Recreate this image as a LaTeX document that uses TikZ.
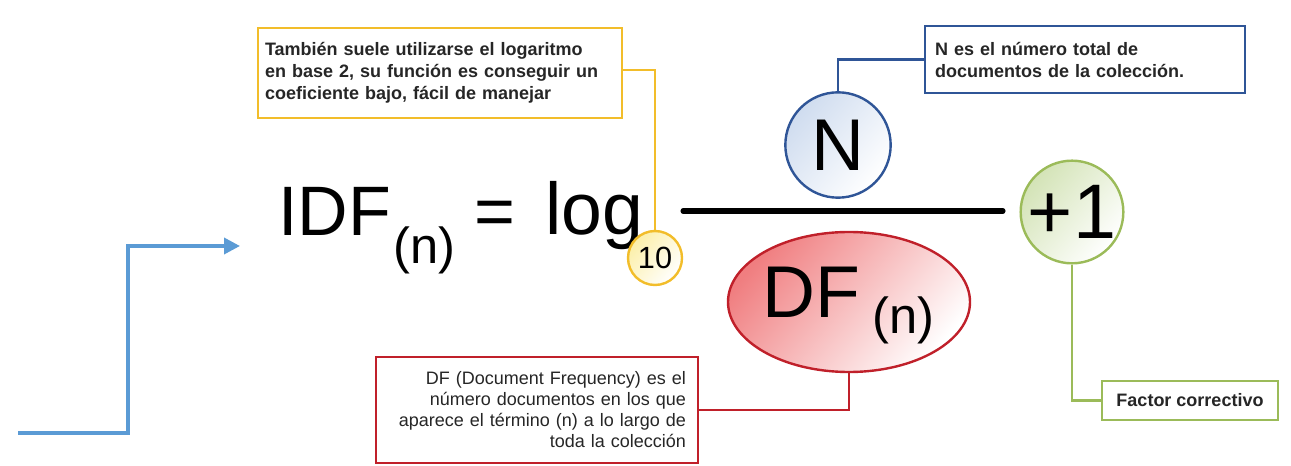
\documentclass[tikz,border=0pt]{standalone}
\usepackage{fontspec}
\setmainfont{Liberation Sans}
\usetikzlibrary{arrows.meta,shapes.geometric}
\definecolor{ybord}{HTML}{F2BD2A}
\definecolor{yfill}{HTML}{FCEFA8}
\definecolor{bbord}{HTML}{2F5597}
\definecolor{bfill}{HTML}{CFDCEF}
\definecolor{gbord}{HTML}{9BBB59}
\definecolor{gfill}{HTML}{D3E3B6}
\definecolor{rbord}{HTML}{C0202A}
\definecolor{rfill}{HTML}{F07E80}
\definecolor{txt}{HTML}{262626}
\definecolor{arrowblue}{HTML}{5B9BD5}
\begin{document}
\begin{tikzpicture}[x=0.75pt,y=-0.75pt,
  every node/.style={inner sep=0pt, text=txt},
  note/.style={draw, line width=2.2pt, fill=white, font=\fontsize{13.5pt}{16.5pt}\selectfont\bfseries},
  link/.style={line width=2pt},
  big/.style={font=\fontsize{52.5pt}{60pt}\selectfont, text=black},
  sub/.style={font=\fontsize{38pt}{42pt}\selectfont, text=black},
  ball/.style={circle, draw, line width=1.8pt},
  grad/.style={top color=#1, bottom color=white, shading angle=50},
]
\useasboundingbox (0,0) rectangle (1291,466);

% formula
\node[big, anchor=base west] (idf) at (278,236) {IDF};
\node[sub, anchor=base west] (idfn) at (393,264) {(n)};
\node[big, anchor=base west] (eq) at (474,236) {=};
\node[font=\fontsize{55pt}{60pt}\selectfont, text=black, anchor=base west] (log) at (545,235) {log};
\draw[line width=3.8pt, line cap=round] (683,211) -- (1003,211);

% base 10
\node[ball, draw=ybord, grad=yfill, minimum size=40.5pt,
      font=\fontsize{23pt}{26pt}\selectfont] (ten) at (655,258) {\textcolor{black}{10}};

% N
\node[ball, draw=bbord, grad=bfill, minimum size=79pt,
      font=\fontsize{55pt}{60pt}\selectfont] (N) at (838,145) {\textcolor{black}{N}};

% +1
\node[ball, draw=gbord, grad=gfill, minimum size=77pt,
      font=\fontsize{58pt}{62pt}\selectfont] (plus) at (1072,212) {\textcolor{black}{+1}};

% DF ellipse
\node[ellipse, draw=rbord, line width=1.8pt, grad=rfill,
      minimum width=181.5pt, minimum height=105pt] (DF) at (849,302) {};
\node[font=\fontsize{55pt}{60pt}\selectfont, anchor=base west, text=black] (dft) at (762,318) {DF};
\node[font=\fontsize{38pt}{42pt}\selectfont, anchor=base west, text=black] (dfn) at (872,334) {(n)};

% notes
\node[note, draw=ybord, minimum width=273pt, minimum height=67.5pt, text width=262.5pt, align=left]
  (ybox) at (440,73) {También suele utilizarse el logaritmo\\en base 2, su función es conseguir un\\coeficiente bajo, fácil de manejar};
\node[note, draw=bbord, minimum width=240pt, minimum height=50.25pt, text width=225pt, align=left]
  (bbox) at (1085,59.5) {N es el número total de\\documentos de la colección.};
\node[note, draw=gbord, minimum width=132pt, minimum height=29.25pt]
  (gbox) at (1190,400.5) {Factor correctivo};
\node[note, draw=rbord, minimum width=241.5pt, minimum height=79.5pt, text width=223.5pt, align=right,
      font=\fontsize{13.5pt}{15.75pt}\selectfont]
  (rbox) at (537,410) {DF (Document Frequency) es el\\número documentos en los que\\aparece el término (n) a lo largo de\\toda la colección};

% connectors
\draw[link, ybord] (ybox.east |- 0,70) -| (ten.north);
\draw[link, bbord] (N.north) |- (bbox.west);
\draw[link, gbord] (plus.south) |- (gbox.west);
\draw[link, rbord] (DF.south) |- (rbox.east);

% blue arrow
\coordinate (a0) at (18,433);
\coordinate (a1) at (240,246);
\draw[arrowblue, line width=2.7pt, -{Triangle[length=12pt,width=12pt]}]
  (a0) -- (128,433) -- (128,246) -- (a1);
\end{tikzpicture}
\end{document}
